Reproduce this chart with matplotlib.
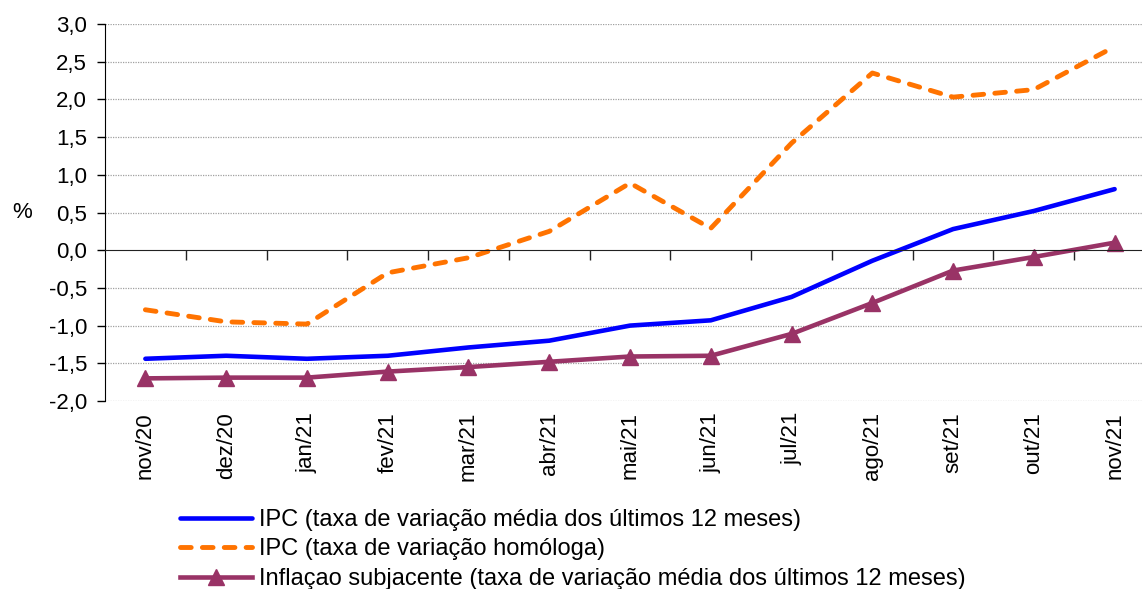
import matplotlib
matplotlib.use("Agg")
import matplotlib.pyplot as plt
from matplotlib.ticker import FuncFormatter
import numpy as np

plt.rcParams['font.family'] = ['Liberation Sans', 'DejaVu Sans']

meses = ['nov/20', 'dez/20', 'jan/21', 'fev/21', 'mar/21', 'abr/21', 'mai/21',
         'jun/21', 'jul/21', 'ago/21', 'set/21', 'out/21', 'nov/21']
ipc_media = [-1.44, -1.40, -1.44, -1.40, -1.29, -1.20, -1.00, -0.93, -0.62,
             -0.14, 0.28, 0.52, 0.81]
ipc_homologa = [-0.79, -0.95, -0.98, -0.30, -0.10, 0.25, 0.89, 0.29, 1.42,
                2.35, 2.03, 2.13, 2.70]
subjacente = [-1.70, -1.69, -1.69, -1.61, -1.55, -1.48, -1.41, -1.40, -1.11,
              -0.70, -0.27, -0.09, 0.10]
nomes = ['IPC (taxa de variação média dos últimos 12 meses)',
         'IPC (taxa de variação homóloga)',
         'Inflaçao subjacente (taxa de variação média dos últimos 12 meses)']

fig = plt.figure(figsize=(11.42, 5.89), dpi=100)
ax = fig.add_axes([105/1142, 1-401/589, 1050/1142, 377/589])
x = np.arange(len(meses))

l1, = ax.plot(x, ipc_media, color='#0000ff', lw=3.3, solid_capstyle='round')
l2, = ax.plot(x, ipc_homologa, color='#ff7300', lw=3.5, linestyle=(0, (2.2, 2.3)),
              dash_capstyle='round')
l3, = ax.plot(x, subjacente, color='#993366', lw=3.3, marker='^', markersize=11)

ax.set_xlim(-0.5, len(meses)-0.5)
ax.set_ylim(-2.0, 3.0)
ax.set_yticks(np.arange(-2.0, 3.01, 0.5))
ax.yaxis.set_major_formatter(FuncFormatter(lambda v, p: f'{v:.1f}'.replace('.', ',')))
ax.tick_params(axis='y', length=6, width=1, labelsize=16, pad=7)
for v in np.arange(-2.0, 3.01, 0.5):
    if abs(v) > 1e-9:
        ax.axhline(v, color='#a0a0a0', lw=0.9, linestyle=(0, (1, 1)), zorder=0)

for s in ['top', 'right']:
    ax.spines[s].set_visible(False)
ax.spines['bottom'].set_position(('data', 0))
ax.spines['bottom'].set_color('#222222')
ax.spines['left'].set_color('#000000')

ax.set_xticks(x)
ax.tick_params(axis='x', which='major', length=0, labelbottom=False)
ax.set_xticks(np.arange(0.5, len(meses)-1, 1.0), minor=True)
ax.tick_params(axis='x', which='minor', length=7, width=1, color='#222222')

sec = ax.secondary_xaxis('bottom')
sec.set_xticks(x)
sec.set_xticklabels(meses, rotation=90, fontsize=16)
sec.tick_params(length=0, pad=8)
sec.spines['bottom'].set_visible(False)

fig.text(22/1142, 1-213/589, '%', fontsize=16, ha='center', va='center')

fig.legend([l1, l2, l3], nomes, loc='upper left', bbox_to_anchor=(168/1142, 1-497/589),
           frameon=False, fontsize=17, handlelength=3.05, handletextpad=0.3,
           labelspacing=0.32, borderpad=0)

fig.savefig('out.png', dpi=100)
